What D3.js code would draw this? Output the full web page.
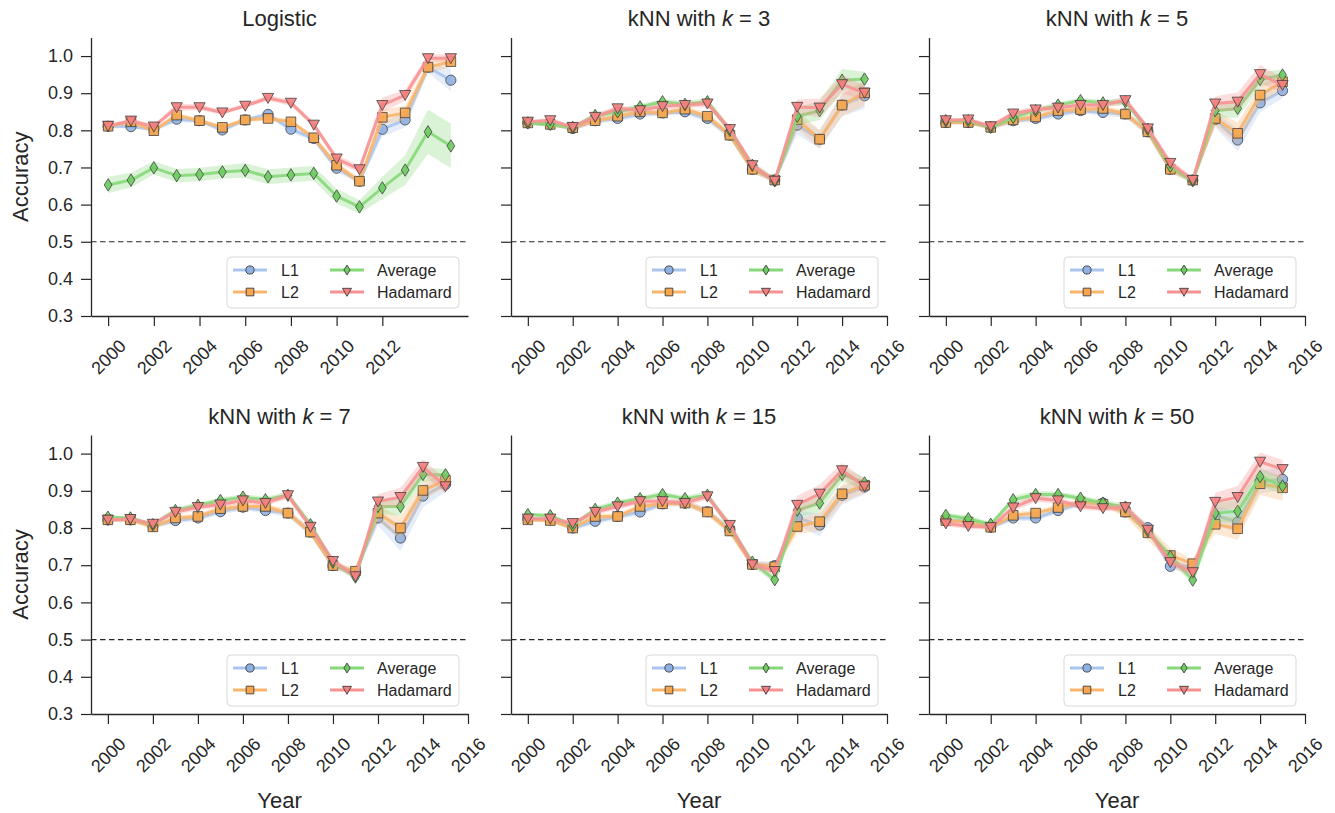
<!DOCTYPE html>
<html><head><meta charset="utf-8">
<script src="https://cdn.jsdelivr.net/npm/d3@7"></script>
<style>
body{margin:0;background:#fff}
svg{display:block}
text{font-family:"Liberation Sans",Arial,Helvetica,sans-serif;fill:#262626}
</style>
</head><body><svg id="c" width="1335" height="813"></svg>
<script>
// ---------------- data ----------------
const years = [2000,2001,2002,2003,2004,2005,2006,2007,2008,2009,2010,2011,2012,2013,2014,2015];
const seriesNames = ["L1","L2","Average","Hadamard"];
const panelTitles = [["Logistic",null],["kNN with ","3"],["kNN with ","5"],["kNN with ","7"],["kNN with ","15"],["kNN with ","50"]];
const yTicks = [0.3,0.4,0.5,0.6,0.7,0.8,0.9,1.0];
const xTicksLogistic = [2000,2002,2004,2006,2008,2010,2012];
const xTicksKnn = [2000,2002,2004,2006,2008,2010,2012,2014,2016];
const chanceLevel = 0.5;

// Logistic
const logistic_L1  = [0.811,0.810,0.803,0.830,0.826,0.801,0.828,0.843,0.803,0.778,0.698,0.663,0.803,0.828,0.970,0.935];
const logistic_L2  = [0.811,0.823,0.799,0.841,0.826,0.808,0.828,0.832,0.823,0.780,0.706,0.663,0.835,0.847,0.970,0.985];
const logistic_Avg = [0.653,0.666,0.699,0.678,0.681,0.688,0.692,0.675,0.680,0.684,0.623,0.594,0.645,0.693,0.796,0.758];
const logistic_Had = [0.812,0.826,0.810,0.862,0.862,0.848,0.866,0.887,0.874,0.815,0.724,0.695,0.868,0.895,0.994,0.994];
const logistic_L1_ci  = [0.005,0.005,0.006,0.008,0.006,0.006,0.006,0.007,0.008,0.008,0.010,0.008,0.020,0.020,0.015,0.030];
const logistic_L2_ci  = [0.005,0.005,0.006,0.006,0.006,0.006,0.006,0.006,0.006,0.008,0.010,0.008,0.020,0.020,0.015,0.015];
const logistic_Avg_ci = [0.022,0.020,0.018,0.018,0.018,0.018,0.020,0.020,0.020,0.020,0.020,0.018,0.030,0.040,0.060,0.060];
const logistic_Had_ci = [0.005,0.006,0.006,0.010,0.008,0.006,0.006,0.008,0.008,0.008,0.010,0.010,0.020,0.015,0.010,0.010];

// kNN k=3
const k3_L1  = [0.820,0.816,0.805,0.826,0.832,0.844,0.847,0.850,0.832,0.787,0.695,0.666,0.814,0.776,0.868,0.893];
const k3_L2  = [0.820,0.816,0.807,0.826,0.838,0.850,0.847,0.857,0.838,0.787,0.695,0.666,0.829,0.776,0.868,0.901];
const k3_Avg = [0.820,0.816,0.808,0.840,0.850,0.863,0.877,0.870,0.877,0.800,0.706,0.664,0.838,0.853,0.935,0.938];
const k3_Had = [0.823,0.827,0.809,0.836,0.859,0.854,0.865,0.868,0.872,0.803,0.706,0.664,0.863,0.861,0.924,0.901];
const k3_L1_ci  = [0.005,0.005,0.006,0.008,0.008,0.008,0.008,0.008,0.010,0.010,0.010,0.008,0.025,0.025,0.030,0.035];
const k3_L2_ci  = [0.005,0.005,0.006,0.008,0.008,0.008,0.008,0.008,0.010,0.010,0.010,0.008,0.025,0.025,0.030,0.035];
const k3_Avg_ci = [0.005,0.005,0.006,0.008,0.008,0.008,0.008,0.008,0.010,0.010,0.010,0.008,0.025,0.025,0.030,0.020];
const k3_Had_ci = [0.005,0.005,0.006,0.008,0.008,0.008,0.008,0.008,0.010,0.010,0.010,0.008,0.020,0.025,0.025,0.020];

// kNN k=5
const k5_L1  = [0.821,0.821,0.808,0.826,0.832,0.844,0.853,0.848,0.844,0.796,0.695,0.666,0.829,0.774,0.874,0.907];
const k5_L2  = [0.821,0.821,0.808,0.828,0.836,0.853,0.856,0.859,0.844,0.796,0.695,0.666,0.832,0.792,0.895,0.931];
const k5_Avg = [0.826,0.826,0.808,0.835,0.853,0.868,0.880,0.874,0.877,0.803,0.703,0.664,0.853,0.859,0.937,0.949];
const k5_Had = [0.827,0.829,0.811,0.845,0.856,0.861,0.868,0.868,0.881,0.805,0.712,0.666,0.872,0.877,0.951,0.922];
const k5_L1_ci  = [0.005,0.005,0.006,0.008,0.008,0.008,0.008,0.008,0.010,0.010,0.010,0.008,0.020,0.030,0.025,0.020];
const k5_L2_ci  = [0.005,0.005,0.006,0.008,0.008,0.008,0.008,0.008,0.010,0.010,0.010,0.008,0.020,0.030,0.025,0.020];
const k5_Avg_ci = [0.005,0.005,0.006,0.008,0.008,0.008,0.008,0.008,0.010,0.010,0.010,0.008,0.020,0.025,0.020,0.015];
const k5_Had_ci = [0.005,0.005,0.006,0.008,0.008,0.008,0.008,0.008,0.010,0.010,0.010,0.008,0.020,0.025,0.025,0.020];

// kNN k=7
const k7_L1  = [0.822,0.822,0.805,0.820,0.827,0.844,0.856,0.847,0.840,0.789,0.699,0.681,0.827,0.773,0.886,0.917];
const k7_L2  = [0.822,0.822,0.803,0.827,0.831,0.852,0.858,0.858,0.840,0.789,0.699,0.684,0.840,0.800,0.901,0.928];
const k7_Avg = [0.829,0.827,0.809,0.847,0.861,0.874,0.883,0.876,0.888,0.809,0.708,0.668,0.858,0.858,0.944,0.943];
const k7_Had = [0.822,0.824,0.811,0.843,0.856,0.863,0.874,0.867,0.888,0.803,0.711,0.670,0.871,0.883,0.964,0.912];
const k7_L1_ci  = [0.005,0.005,0.006,0.008,0.008,0.008,0.008,0.008,0.010,0.010,0.010,0.008,0.020,0.035,0.030,0.020];
const k7_L2_ci  = [0.005,0.005,0.006,0.008,0.008,0.008,0.008,0.008,0.010,0.010,0.010,0.008,0.020,0.030,0.025,0.020];
const k7_Avg_ci = [0.005,0.005,0.006,0.008,0.008,0.008,0.008,0.008,0.010,0.010,0.010,0.008,0.020,0.025,0.020,0.015];
const k7_Had_ci = [0.005,0.005,0.006,0.008,0.008,0.008,0.008,0.008,0.010,0.010,0.010,0.008,0.020,0.025,0.020,0.020];

// kNN k=15
const k15_L1  = [0.825,0.822,0.800,0.818,0.831,0.843,0.865,0.867,0.844,0.794,0.702,0.699,0.827,0.808,0.888,0.910];
const k15_L2  = [0.822,0.820,0.800,0.831,0.831,0.858,0.865,0.867,0.843,0.792,0.702,0.696,0.804,0.817,0.892,0.915];
const k15_Avg = [0.836,0.833,0.807,0.850,0.867,0.879,0.890,0.879,0.888,0.803,0.708,0.661,0.848,0.867,0.944,0.921];
const k15_Had = [0.825,0.825,0.813,0.843,0.858,0.872,0.872,0.867,0.885,0.808,0.702,0.684,0.862,0.892,0.955,0.912];
const k15_L1_ci  = [0.005,0.005,0.006,0.008,0.008,0.008,0.008,0.008,0.010,0.010,0.010,0.010,0.020,0.030,0.025,0.020];
const k15_L2_ci  = [0.005,0.005,0.006,0.008,0.008,0.008,0.008,0.008,0.010,0.010,0.010,0.010,0.020,0.025,0.025,0.020];
const k15_Avg_ci = [0.005,0.005,0.006,0.008,0.008,0.008,0.008,0.008,0.010,0.010,0.010,0.010,0.020,0.025,0.020,0.015];
const k15_Had_ci = [0.005,0.005,0.006,0.008,0.008,0.008,0.008,0.008,0.010,0.010,0.010,0.010,0.025,0.025,0.020,0.020];

// kNN k=50
const k50_L1  = [0.820,0.818,0.802,0.827,0.827,0.847,0.867,0.867,0.843,0.801,0.697,0.697,0.834,0.816,0.924,0.931];
const k50_L2  = [0.820,0.816,0.802,0.834,0.840,0.855,0.870,0.864,0.843,0.787,0.726,0.704,0.810,0.798,0.919,0.908];
const k50_Avg = [0.834,0.825,0.810,0.876,0.890,0.890,0.880,0.867,0.856,0.792,0.723,0.660,0.840,0.845,0.938,0.913];
const k50_Had = [0.812,0.805,0.802,0.855,0.880,0.874,0.858,0.853,0.856,0.795,0.708,0.681,0.870,0.883,0.978,0.958];
const k50_L1_ci  = [0.006,0.006,0.006,0.008,0.008,0.008,0.008,0.008,0.010,0.012,0.012,0.010,0.025,0.030,0.030,0.030];
const k50_L2_ci  = [0.006,0.006,0.006,0.008,0.008,0.008,0.008,0.008,0.012,0.020,0.020,0.012,0.025,0.030,0.030,0.035];
const k50_Avg_ci = [0.008,0.008,0.006,0.010,0.010,0.008,0.008,0.008,0.010,0.012,0.012,0.012,0.025,0.030,0.025,0.020];
const k50_Had_ci = [0.008,0.008,0.006,0.010,0.010,0.008,0.008,0.008,0.010,0.012,0.012,0.012,0.025,0.030,0.025,0.025];

const panelValues = [
  [logistic_L1, logistic_L2, logistic_Avg, logistic_Had],
  [k3_L1, k3_L2, k3_Avg, k3_Had],
  [k5_L1, k5_L2, k5_Avg, k5_Had],
  [k7_L1, k7_L2, k7_Avg, k7_Had],
  [k15_L1, k15_L2, k15_Avg, k15_Had],
  [k50_L1, k50_L2, k50_Avg, k50_Had]
];
const panelCI = [
  [logistic_L1_ci, logistic_L2_ci, logistic_Avg_ci, logistic_Had_ci],
  [k3_L1_ci, k3_L2_ci, k3_Avg_ci, k3_Had_ci],
  [k5_L1_ci, k5_L2_ci, k5_Avg_ci, k5_Had_ci],
  [k7_L1_ci, k7_L2_ci, k7_Avg_ci, k7_Had_ci],
  [k15_L1_ci, k15_L2_ci, k15_Avg_ci, k15_Had_ci],
  [k50_L1_ci, k50_L2_ci, k50_Avg_ci, k50_Had_ci]
];
const panelXTicks = [xTicksLogistic, xTicksKnn, xTicksKnn, xTicksKnn, xTicksKnn, xTicksKnn];

// ---------------- layout & style ----------------
const colX = [[91,468],[511,887],[929,1305]];
const rowY = [[37.5,316],[435,714]];
const lineColors   = ["#a9c4ee","#f9b56c","#86d879","#f79292"];
const markerColors = ["#8fb0e2","#f6a64e","#6dcb61","#f47d7d"];
const ink = "#262626";

const markerPaths = [
  d3.symbol(d3.symbolCircle, 82)(),
  "M-4.8,-4.8H4.8V4.8H-4.8Z",
  "M0,-6.2L3.9,0L0,6.2L-3.9,0Z",
  "M-5.6,-4.6L5.6,-4.6L0,5.4Z"
];

const svg = d3.select("#c");

panelValues.forEach((vals, i) => {
  const c = i % 3, r = Math.floor(i / 3);
  const x = d3.scaleLinear().domain(i === 0 ? [1999.25, 2015.75] : [1999.25, 2016]).range(colX[c]);
  const y = d3.scaleLinear().domain([0.3, 1.05]).range([rowY[r][1], rowY[r][0]]);
  const g = svg.append("g");

  // chance line
  g.append("line")
    .attr("x1", x.range()[0]).attr("x2", x.range()[1])
    .attr("y1", y(chanceLevel)).attr("y2", y(chanceLevel))
    .attr("stroke", ink).attr("stroke-width", 1.2).attr("stroke-dasharray", "5.5,3.5");

  // series
  vals.forEach((v, s) => {
    const ci = panelCI[i][s];
    const pts = years.map((yr, k) => ({yr, v: v[k], e: ci[k]}));
    g.append("path")
      .attr("d", d3.area().x(d => x(d.yr)).y0(d => y(d.v - d.e)).y1(d => y(d.v + d.e))(pts))
      .attr("fill", lineColors[s]).attr("fill-opacity", 0.3).attr("stroke", "none");
    g.append("path")
      .attr("d", d3.line().x(d => x(d.yr)).y(d => y(d.v))(pts))
      .attr("fill", "none").attr("stroke", lineColors[s]).attr("stroke-width", 3)
      .attr("stroke-opacity", 0.9).attr("stroke-linejoin", "round");
    g.selectAll(null).data(pts).enter().append("path")
      .attr("d", markerPaths[s])
      .attr("transform", d => `translate(${x(d.yr)},${y(d.v)})`)
      .attr("fill", markerColors[s]).attr("fill-opacity", 0.9)
      .attr("stroke", "#3a3a3a").attr("stroke-opacity", 0.85).attr("stroke-width", 0.9);
  });

  // y axis
  const ya = g.append("g").attr("transform", `translate(${colX[c][0]},0)`)
    .call(d3.axisLeft(y).tickValues(yTicks).tickSize(10).tickSizeOuter(0).tickPadding(8)
      .tickFormat(c === 0 ? d3.format(".1f") : () => ""));
  ya.select(".domain").attr("stroke", ink).attr("stroke-width", 1.3);
  ya.selectAll(".tick line").attr("stroke", ink).attr("stroke-width", 1.2);
  ya.selectAll(".tick text").attr("font-size", 18).attr("font-family", null).attr("fill", ink);

  // x axis
  const xa = g.append("g").attr("transform", `translate(0,${rowY[r][1]})`)
    .call(d3.axisBottom(x).tickValues(panelXTicks[i]).tickSize(10).tickSizeOuter(0).tickFormat(d3.format("d")));
  xa.select(".domain").attr("stroke", ink).attr("stroke-width", 1.3);
  xa.selectAll(".tick line").attr("stroke", ink).attr("stroke-width", 1.2);
  xa.selectAll(".tick text")
    .attr("y", null).attr("dy", null)
    .attr("transform", "translate(0,41) rotate(-45)")
    .attr("text-anchor", "middle").attr("dominant-baseline", "central")
    .attr("font-size", 18).attr("font-family", null).attr("fill", ink);

  // title
  const cx = (colX[c][0] + colX[c][1]) / 2;
  const t = g.append("text").attr("x", cx).attr("y", rowY[r][0] - 11.5)
    .attr("text-anchor", "middle").attr("font-size", 22);
  const [pre, kv] = panelTitles[i];
  t.append("tspan").text(pre);
  if (kv !== null) {
    t.append("tspan").attr("font-style", "italic").text("k");
    t.append("tspan").text(" = " + kv);
  }

  // axis labels
  if (c === 0) {
    g.append("text").attr("transform", `translate(20,${(rowY[r][0] + rowY[r][1]) / 2}) rotate(-90)`)
      .attr("text-anchor", "middle").attr("dominant-baseline", "central").attr("font-size", 22).text("Accuracy");
  }
  if (r === 1) {
    g.append("text").attr("x", cx).attr("y", 808).attr("text-anchor", "middle").attr("font-size", 22).text("Year");
  }

  // legend
  const lw = 232, lh = 51;
  const lx = colX[c][1] - 9 - lw, ly = rowY[r][1] - 8 - lh;
  const lg = g.append("g").attr("transform", `translate(${lx},${ly})`);
  lg.append("rect").attr("width", lw).attr("height", lh).attr("rx", 4)
    .attr("fill", "#fff").attr("fill-opacity", 0.85).attr("stroke", "#d9d9d9").attr("stroke-width", 1);
  seriesNames.forEach((name, s) => {
    const col = Math.floor(s / 2), row = s % 2;
    const hx = col === 0 ? 6 : 103, tx = col === 0 ? 54 : 150, hy = row === 0 ? 13 : 35;
    lg.append("line").attr("x1", hx).attr("x2", hx + 34).attr("y1", hy).attr("y2", hy)
      .attr("stroke", lineColors[s]).attr("stroke-width", 3);
    lg.append("path").attr("d", markerPaths[s]).attr("transform", `translate(${hx + 17},${hy}) scale(0.8)`)
      .attr("fill", markerColors[s]).attr("stroke", "#3a3a3a").attr("stroke-width", 1.1);
    lg.append("text").attr("x", tx).attr("y", hy).attr("dominant-baseline", "central")
      .attr("font-size", 16).text(name);
  });
});
</script></body></html>
